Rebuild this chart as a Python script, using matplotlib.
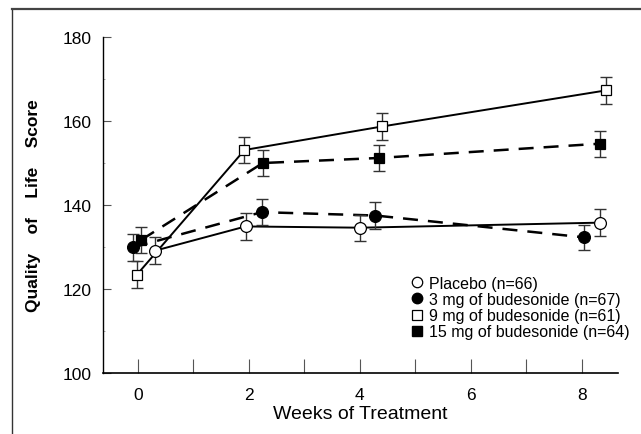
import matplotlib
matplotlib.use("Agg")
import matplotlib.pyplot as plt
from matplotlib.lines import Line2D

plt.rcParams['font.family'] = ['Liberation Sans', 'DejaVu Sans']

# x positions as plotted (groups are slightly offset around each visit week)
placebo_x = [0.30, 1.94, 4.01, 8.32]
placebo_y = [129.1, 134.9, 134.6, 135.8]
placebo_err = [3.2, 3.2, 3.1, 3.2]

bud3_x = [-0.09, 2.23, 4.28, 8.04]
bud3_y = [129.9, 138.3, 137.5, 132.3]
bud3_err = [3.3, 3.1, 3.2, 3.0]

bud9_x = [-0.02, 1.92, 4.40, 8.44]
bud9_y = [123.4, 153.1, 158.7, 167.3]
bud9_err = [3.2, 3.2, 3.2, 3.2]

bud15_x = [0.06, 2.25, 4.34, 8.32]
bud15_y = [131.7, 150.0, 151.2, 154.6]
bud15_err = [3.1, 3.2, 3.2, 3.1]

labels = ['Placebo (n=66)', '3 mg of budesonide (n=67)',
          '9 mg of budesonide (n=61)', '15 mg of budesonide (n=64)']

x_major = [0, 2, 4, 6, 8]
x_minor = [1, 3, 5, 7]
y_major = [100, 120, 140, 160, 180]
y_minor = [110, 130, 150, 170]

fig = plt.figure(figsize=(6.41, 4.35), dpi=100)
ax = fig.add_axes([0.1607, 0.1402, 0.8033, 0.7724])

# figure frame (left and top edges visible)
fig.add_artist(Line2D([12/641, 12/641], [0, 1 - 10/435], color='#333333', lw=1.0))
fig.add_artist(Line2D([12/641, 1], [1 - 10/435, 1 - 10/435], color='#444444', lw=1.6))

series = [
    (placebo_x, placebo_y, placebo_err, 'o', 'white', '-'),
    (bud3_x, bud3_y, bud3_err, 'o', 'black', (0, (6, 4))),
    (bud9_x, bud9_y, bud9_err, 's', 'white', '-'),
    (bud15_x, bud15_y, bud15_err, 's', 'black', (0, (6, 4))),
]

for x, y, e, m, fc, ls in series:
    lw = 1.4 if ls == '-' else 1.8
    ax.plot(x, y, color='black', lw=lw, linestyle=ls, zorder=2)
    ax.errorbar(x, y, yerr=e, fmt='none', ecolor='#333333', elinewidth=1.0,
                capsize=4.5, capthick=1.0, zorder=3)
    ax.plot(x, y, linestyle='none', marker=m, markersize=8.5 if m == 'o' else 7.5,
            markerfacecolor=fc, markeredgecolor='black', markeredgewidth=0.9, zorder=4)

ax.set_xlim(-0.63, 8.65)
ax.set_ylim(100, 180)
ax.spines['top'].set_visible(False)
ax.spines['right'].set_visible(False)
ax.spines['left'].set_linewidth(1.0)
ax.spines['bottom'].set_linewidth(1.2)

ax.set_xticks(x_major)
ax.set_xticks(x_minor, minor=True)
ax.set_yticks(y_major)
ax.set_yticks(y_minor, minor=True)
ax.tick_params(axis='x', which='both', direction='in', length=10, width=0.8,
               color='#555555', labelsize=12.5, pad=10)
ax.tick_params(axis='y', which='major', direction='in', length=6, width=0.8,
               color='#555555', labelsize=12.5, pad=8)
ax.tick_params(axis='y', which='minor', direction='in', length=1.5, width=0.6,
               color='#999999')

ax.set_xlabel('Weeks of Treatment', fontsize=14, labelpad=2)
ax.set_ylabel('Quality    of    Life    Score', fontsize=12.5, fontweight='bold',
              labelpad=16)

handles = [
    Line2D([], [], linestyle='none', marker='o', markersize=7.5,
           markerfacecolor='white', markeredgecolor='black', markeredgewidth=0.9),
    Line2D([], [], linestyle='none', marker='o', markersize=7.5,
           markerfacecolor='black', markeredgecolor='black'),
    Line2D([], [], linestyle='none', marker='s', markersize=6.5,
           markerfacecolor='white', markeredgecolor='black', markeredgewidth=0.9),
    Line2D([], [], linestyle='none', marker='s', markersize=6.5,
           markerfacecolor='black', markeredgecolor='black'),
]
ax.legend(handles, labels, loc='upper left', bbox_to_anchor=(0.595, 0.29),
          frameon=False, fontsize=11.5, handlelength=0.9, handletextpad=0.3,
          labelspacing=0.08, borderpad=0, borderaxespad=0)

fig.savefig('out.png', dpi=100)
